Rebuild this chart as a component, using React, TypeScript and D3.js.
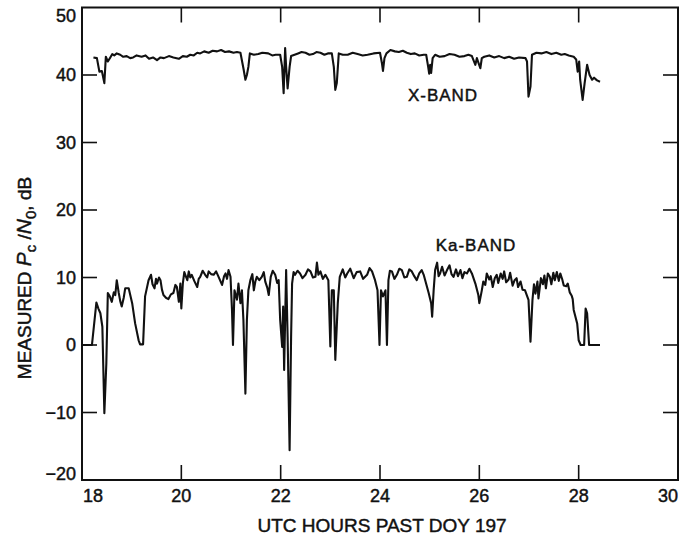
import React from "react";
import * as d3 from "d3";

const xTicks = [18, 20, 22, 24, 26, 28, 30];
const yTicks = [-20, -10, 0, 10, 20, 30, 40, 50];

// [UTC hour, dB]
const xBand: [number, number][] = [
  [18.23,42.6],[18.30,42.5],[18.35,40.5],[18.40,40.6],[18.45,38.8],[18.48,42.7],[18.52,42.0],[18.57,42.6],[18.61,43.1],[18.65,42.9],
  [18.70,43.2],[18.77,43.0],[18.83,42.7],[18.90,42.8],[18.97,42.5],[19.03,42.6],[19.10,42.9],[19.20,42.7],[19.28,42.9],[19.35,42.4],
  [19.43,42.6],[19.51,42.2],[19.58,42.6],[19.65,42.5],[19.75,42.8],[19.84,42.6],[19.95,42.4],[20.03,42.8],[20.11,42.7],[20.18,43.0],
  [20.25,42.9],[20.32,43.3],[20.38,43.2],[20.46,43.5],[20.55,43.3],[20.63,43.6],[20.72,43.5],[20.80,43.7],[20.88,43.4],[20.96,43.5],
  [21.05,43.3],[21.12,43.4],[21.19,43.3],[21.25,41.0],[21.29,39.3],[21.32,40.0],[21.35,41.2],[21.38,43.2],[21.46,43.0],[21.55,43.1],
  [21.63,43.3],[21.75,43.2],[21.83,42.9],[21.90,43.0],[21.99,43.0],[22.03,41.2],[22.06,37.3],[22.09,44.0],[22.11,41.2],[22.14,38.0],
  [22.18,41.2],[22.21,42.8],[22.28,43.0],[22.35,43.2],[22.42,43.4],[22.50,43.3],[22.58,43.0],[22.65,43.1],[22.72,43.4],[22.80,43.3],
  [22.88,43.0],[22.95,43.2],[23.03,43.2],[23.07,41.2],[23.10,37.8],[23.13,38.8],[23.17,43.2],[23.25,43.0],[23.35,43.0],[23.45,43.3],
  [23.55,43.1],[23.65,42.9],[23.75,43.0],[23.87,43.2],[24.00,43.3],[24.04,41.7],[24.06,40.6],[24.09,42.5],[24.13,43.2],[24.21,43.7],
  [24.30,43.5],[24.38,43.4],[24.46,43.6],[24.54,43.3],[24.62,43.1],[24.70,43.2],[24.79,42.9],[24.88,43.0],[24.93,43.0],[24.97,41.2],
  [24.99,40.2],[25.01,41.5],[25.03,40.3],[25.06,42.5],[25.11,43.0],[25.20,42.7],[25.30,42.8],[25.40,43.1],[25.50,43.0],[25.60,42.7],
  [25.70,42.8],[25.78,43.0],[25.85,42.8],[25.92,41.5],[25.95,42.5],[26.02,41.0],[26.05,42.5],[26.10,42.7],[26.20,42.9],[26.30,42.6],
  [26.40,42.8],[26.50,42.5],[26.60,42.7],[26.70,42.4],[26.80,42.6],[26.93,42.5],[26.96,42.0],[26.99,36.8],[27.03,38.3],[27.06,43.0],
  [27.15,43.3],[27.25,43.2],[27.35,43.4],[27.45,43.1],[27.55,43.3],[27.65,43.0],[27.72,43.1],[27.80,42.9],[27.90,42.7],[27.95,42.3],
  [27.98,40.5],[28.01,42.0],[28.03,39.3],[28.08,36.3],[28.12,38.8],[28.17,41.5],[28.22,40.0],[28.27,39.3],[28.31,39.6],[28.37,39.2],
  [28.43,39.0],
];

const kaBand: [number, number][] = [
  [18.00,0],[18.20,0],[18.29,6.3],[18.33,5.4],[18.37,4.7],[18.41,2.7],[18.45,-10.1],[18.49,-2.7],[18.52,7.7],[18.56,7.2],
  [18.60,6.4],[18.64,7.8],[18.67,7.4],[18.70,9.6],[18.74,7.7],[18.77,6.5],[18.80,5.7],[18.84,7.0],[18.87,8.4],[18.94,8.4],
  [19.01,6.2],[19.07,3.2],[19.14,0.7],[19.17,0.1],[19.23,0.1],[19.27,7.2],[19.34,9.6],[19.39,10.4],[19.42,9.0],[19.46,8.4],
  [19.49,9.8],[19.51,9.1],[19.55,10.0],[19.58,9.6],[19.61,8.2],[19.64,7.4],[19.69,7.0],[19.74,6.8],[19.79,7.5],[19.84,7.7],
  [19.88,8.9],[19.91,8.6],[19.95,6.4],[19.98,9.1],[20.00,5.4],[20.03,9.1],[20.06,10.8],[20.08,10.4],[20.12,9.6],[20.15,10.9],
  [20.18,10.0],[20.21,10.4],[20.26,9.5],[20.32,8.6],[20.35,9.8],[20.38,10.1],[20.43,11.0],[20.48,10.4],[20.52,10.0],[20.55,10.9],
  [20.60,10.5],[20.65,10.4],[20.70,10.9],[20.75,10.1],[20.82,8.9],[20.86,10.2],[20.89,10.6],[20.92,9.8],[20.95,11.1],[20.99,10.1],
  [21.02,5.2],[21.04,0],[21.07,8.1],[21.12,6.7],[21.15,9.1],[21.19,6.2],[21.22,8.1],[21.25,3.7],[21.29,-7.2],[21.32,3.7],
  [21.35,8.1],[21.39,9.6],[21.43,10.5],[21.46,8.1],[21.49,9.4],[21.52,10.1],[21.57,9.6],[21.62,10.1],[21.66,10.8],[21.69,9.4],
  [21.73,8.5],[21.76,7.4],[21.80,10.1],[21.84,11.0],[21.89,10.4],[21.93,9.2],[21.96,9.6],[21.99,3.7],[22.03,-0.3],[22.05,5.7],
  [22.07,-3.7],[22.09,3.7],[22.11,11.1],[22.14,1.2],[22.18,-15.6],[22.21,1.2],[22.23,9.1],[22.26,10.8],[22.29,10.4],[22.34,11.0],
  [22.39,10.6],[22.44,9.9],[22.50,10.4],[22.55,11.2],[22.60,10.9],[22.65,10.0],[22.70,10.1],[22.73,12.2],[22.76,10.4],[22.80,10.9],
  [22.85,9.8],[22.90,10.4],[22.96,9.6],[23.00,-0.2],[23.03,8.1],[23.07,8.1],[23.10,-2.2],[23.15,6.2],[23.19,10.1],[23.25,11.2],
  [23.30,10.0],[23.34,10.6],[23.40,11.3],[23.47,9.9],[23.53,10.8],[23.60,10.9],[23.66,9.8],[23.74,10.4],[23.79,11.4],[23.84,10.9],
  [23.90,9.6],[23.95,8.1],[23.99,0],[24.02,8.1],[24.06,7.2],[24.11,8.1],[24.14,0],[24.17,9.6],[24.20,11.0],[24.24,10.9],
  [24.29,9.8],[24.34,10.4],[24.39,11.3],[24.44,11.1],[24.49,10.0],[24.54,10.1],[24.59,11.2],[24.64,10.9],[24.69,10.2],[24.74,9.6],
  [24.79,10.6],[24.84,11.1],[24.88,10.4],[24.91,9.6],[24.98,7.7],[25.03,6.2],[25.05,4.2],[25.08,8.1],[25.11,11.1],[25.15,12.2],
  [25.18,10.2],[25.21,10.6],[25.25,11.6],[25.30,10.3],[25.35,11.1],[25.40,11.8],[25.44,10.5],[25.48,10.1],[25.53,11.2],[25.57,10.2],
  [25.62,11.1],[25.66,9.9],[25.70,10.8],[25.75,10.6],[25.80,11.3],[25.85,10.6],[25.92,9.1],[25.98,7.4],[26.00,6.2],[26.05,8.1],
  [26.08,9.4],[26.12,8.9],[26.15,10.6],[26.20,9.7],[26.23,10.2],[26.27,8.6],[26.31,9.9],[26.35,10.4],[26.38,9.2],[26.43,10.6],
  [26.47,9.8],[26.50,10.9],[26.54,9.3],[26.59,9.7],[26.62,10.7],[26.67,8.8],[26.71,9.6],[26.75,9.9],[26.78,8.6],[26.83,9.4],
  [26.87,8.2],[26.92,8.1],[26.99,6.7],[27.03,0.5],[27.07,6.7],[27.10,9.0],[27.13,7.6],[27.17,9.4],[27.19,6.9],[27.24,9.9],
  [27.28,9.0],[27.31,10.3],[27.34,8.4],[27.38,10.6],[27.42,10.1],[27.45,9.0],[27.49,10.7],[27.52,9.6],[27.56,10.8],[27.60,9.5],
  [27.63,10.6],[27.67,9.7],[27.70,8.8],[27.75,8.7],[27.78,9.1],[27.82,7.8],[27.86,7.3],[27.88,6.8],[27.90,5.2],[27.97,3.2],
  [28.00,0.7],[28.04,0],[28.11,0],[28.14,5.4],[28.17,4.7],[28.21,0],[28.43,0],
];

const W = 680, H = 540;
const left = 82, right = 678, top = 7.5, bottom = 480;
const FONT = "'Liberation Sans', Arial, Helvetica, sans-serif";
const INK = "#111";

export default function App() {
  const x = d3.scaleLinear().domain([18, 30]).range([left, right]);
  const y = d3.scaleLinear().domain([-20, 50]).range([bottom, top]);
  const line = d3.line<[number, number]>().x(d => x(d[0])).y(d => y(d[1]));
  const tl = 15;
  const txt = { fill: INK, stroke: INK, strokeWidth: 0.45 };
  return (
    <svg width={W} height={H} style={{ position: "absolute", left: 0, top: 0, background: "#fff" }} fontFamily={FONT}>
      <rect x={0} y={0} width={W} height={H} fill="#fff" />
      <path d={line(xBand) || ""} fill="none" stroke={INK} strokeWidth={2.1} strokeLinejoin="round" />
      <path d={line(kaBand) || ""} fill="none" stroke={INK} strokeWidth={2.1} strokeLinejoin="round" />
      <rect x={left} y={top} width={right - left} height={bottom - top} fill="none" stroke={INK} strokeWidth={2} />
      {xTicks.slice(1, -1).map(t => (
        <g key={"xt" + t}>
          <line x1={x(t)} x2={x(t)} y1={bottom} y2={bottom - tl} stroke={INK} strokeWidth={1.6} />
          <line x1={x(t)} x2={x(t)} y1={top} y2={top + tl} stroke={INK} strokeWidth={1.6} />
        </g>
      ))}
      {yTicks.slice(1, -1).map(t => (
        <g key={"yt" + t}>
          <line x1={left} x2={left + tl} y1={y(t)} y2={y(t)} stroke={INK} strokeWidth={1.6} />
          <line x1={right} x2={right - tl} y1={y(t)} y2={y(t)} stroke={INK} strokeWidth={1.6} />
        </g>
      ))}
      {xTicks.map((t, i) => (
        <text key={"xl" + t} x={i === 0 ? left + 1 : i === xTicks.length - 1 ? right : x(t)} y={502}
          textAnchor={i === 0 ? "start" : i === xTicks.length - 1 ? "end" : "middle"}
          fontSize={18} {...txt}>{t}</text>
      ))}
      {yTicks.map((t, i) => {
        let yy = y(t) + 6;
        if (i === 0) yy = bottom;
        if (i === yTicks.length - 1) yy = top + 14;
        return (
          <text key={"yl" + t} x={76} y={yy} textAnchor="end" fontSize={18} {...txt}>
            {t < 0 ? "\u2212" + Math.abs(t) : t}
          </text>
        );
      })}
      <text x={382} y={532} textAnchor="middle" fontSize={19} {...txt}>UTC HOURS PAST DOY 197</text>
      <text transform={`translate(31,${278}) rotate(-90)`} textAnchor="middle" fontSize={19} {...txt}>
        MEASURED <tspan fontStyle="italic" fontSize={21}>P</tspan><tspan fontSize={15} dy={5}>c</tspan><tspan dy={-5}> /</tspan><tspan fontStyle="italic" fontSize={21}>N</tspan><tspan fontSize={15} dy={5}>0</tspan><tspan dy={-5}>, dB</tspan>
      </text>
      <text x={443} y={101} textAnchor="middle" fontSize={17} letterSpacing={1} {...txt}>X-BAND</text>
      <text x={476} y={251} textAnchor="middle" fontSize={17} letterSpacing={1} {...txt}>Ka-BAND</text>
    </svg>
  );
}
